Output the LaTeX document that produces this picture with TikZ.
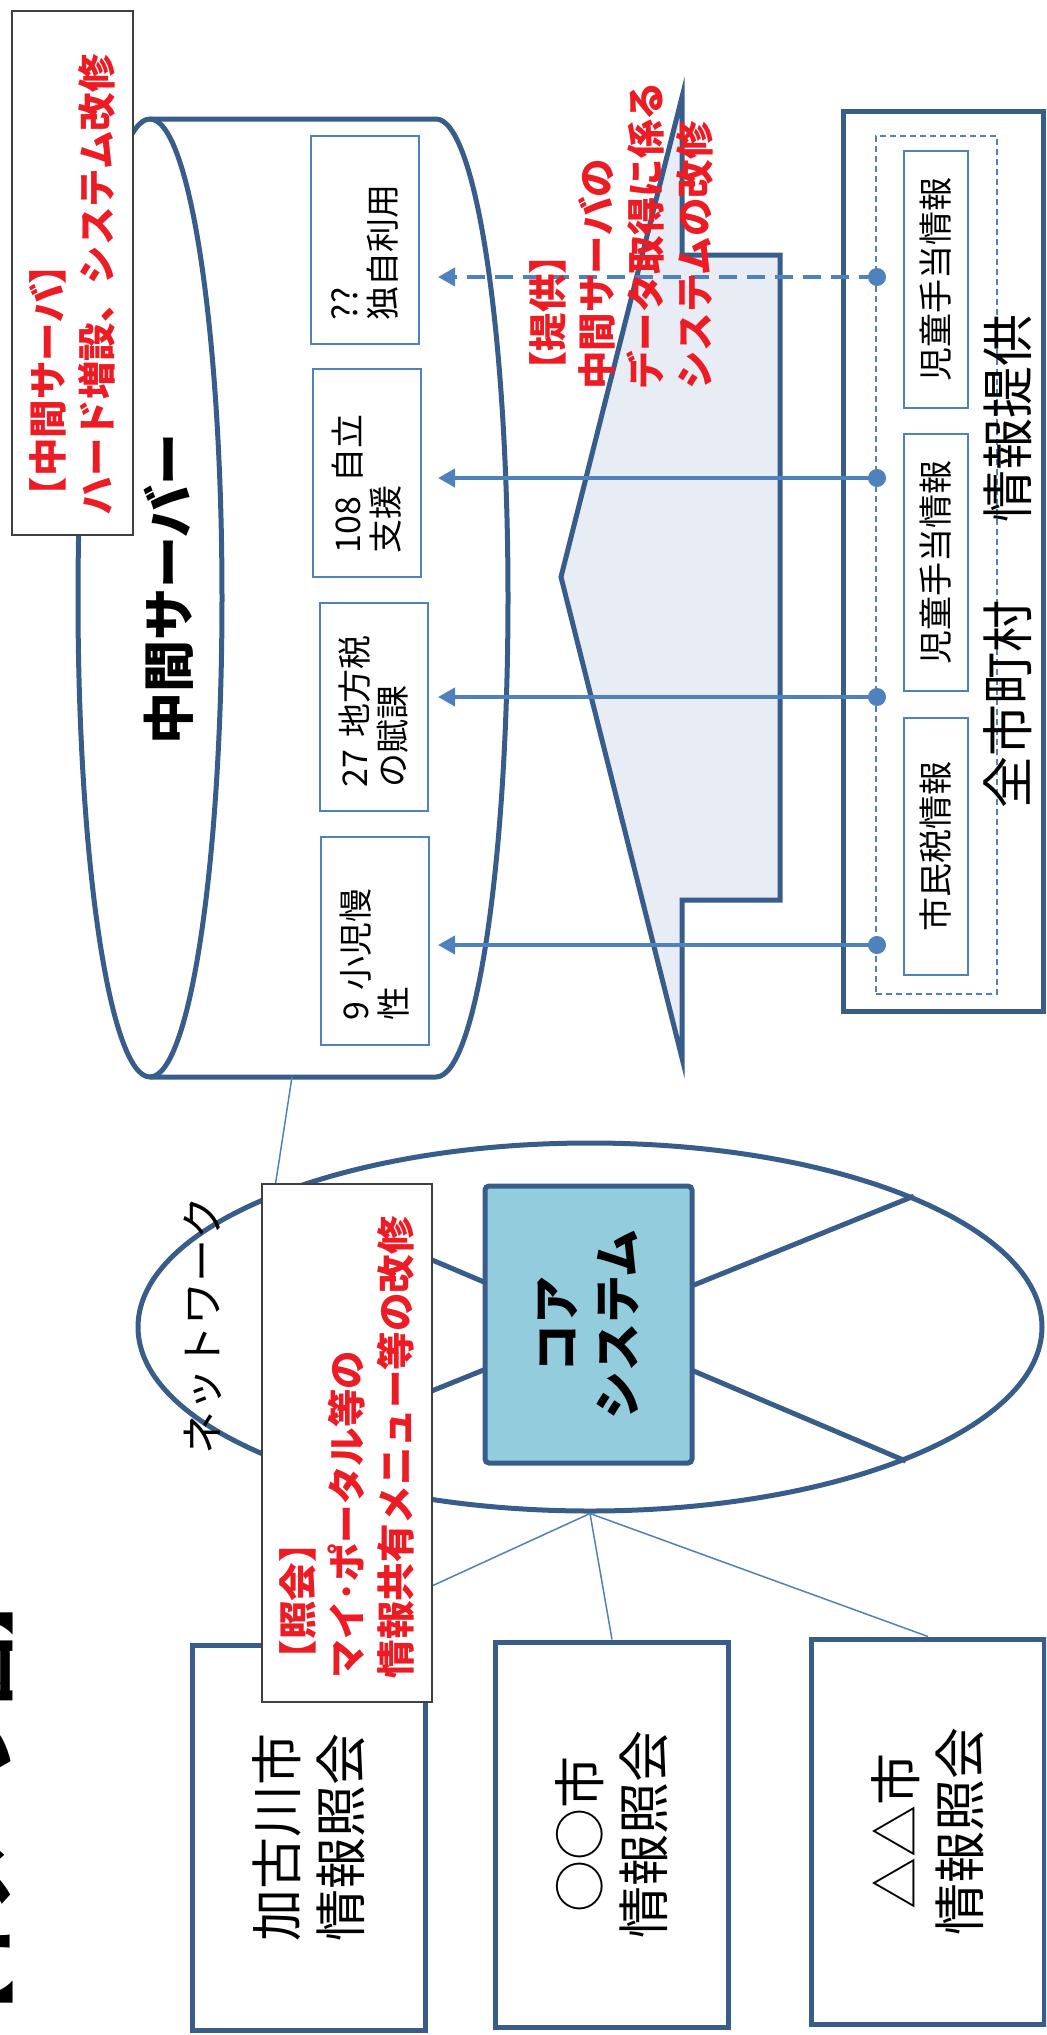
\documentclass[tikz,border=0pt]{standalone}
\usepackage{fontspec}
\setmainfont{Noto Sans CJK JP}
\usetikzlibrary{arrows.meta,shapes.geometric}
\definecolor{dblue}{HTML}{385D8A}
\definecolor{mblue}{HTML}{4F81BD}
\definecolor{redtxt}{HTML}{ED1C24}
\definecolor{aqua}{HTML}{93CDDD}
\definecolor{afill}{HTML}{E7ECF5}
\definecolor{gbord}{HTML}{404040}
\begin{document}
\begin{tikzpicture}[x=0.5pt,y=-0.5pt,
  dk/.style={draw=dblue, line width=2.5pt},
  notebox/.style={draw=gbord, line width=1pt, fill=white, rotate=90, align=left, inner ysep=0pt, text=redtxt, font=\fontsize{19.25pt}{24.5pt}\selectfont\bfseries},
  redlabel/.style={rotate=90, align=left, inner sep=0pt, text=redtxt, font=\fontsize{19.25pt}{24.5pt}\selectfont\bfseries},
  databox/.style={draw=mblue, line width=1pt, fill=white, rotate=90, align=left, inner xsep=12pt, inner ysep=0pt, text width=80pt, minimum width=104pt, minimum height=54pt, font=\fontsize{17pt}{19pt}\selectfont},
  infobox/.style={draw=mblue, line width=1pt, fill=white, rotate=90, align=center, minimum width=128.5pt, minimum height=32pt, inner sep=0pt, font=\fontsize{17pt}{19pt}\selectfont},
  citybox/.style={draw=dblue, line width=2.5pt, fill=white, rotate=90, align=center, minimum width=192.5pt, minimum height=116.5pt, inner sep=0pt, font=\fontsize{26pt}{32pt}\selectfont},
  flow/.style={draw=mblue, line width=2pt, -{Triangle[length=8.5pt,width=9pt]}},
  dotnode/.style={circle, fill=mblue, inner sep=0pt, minimum size=9pt},
  thinline/.style={draw=mblue, line width=0.75pt}
]
\clip (0,0) rectangle (1046,2035);

% title (cut off at the left edge)
\node[rotate=90, anchor=base west, inner sep=0pt, font=\fontsize{34.5pt}{40pt}\selectfont\bfseries] (title) at (6,2049) {【イメージ図】};

% cylinder (intermediate server)
\filldraw[dk, fill=white, line join=round] (150,119) -- (436,119)
  .. controls (475.8,119) and (508,333.4) .. (508,598)
  .. controls (508,862.6) and (475.8,1077) .. (436,1077) -- (150,1077)
  .. controls (110.2,1077) and (78,862.6) .. (78,598)
  .. controls (78,333.4) and (110.2,119) .. (150,119) -- cycle;
\draw[dk] (150,119) .. controls (189.8,119) and (222,333.4) .. (222,598)
  .. controls (222,862.6) and (189.8,1077) .. (150,1077);
\node[rotate=90, inner sep=0pt, font=\fontsize{26pt}{30pt}\selectfont\bfseries] (srv) at (169,589) {中間サーバー};

% data boxes in the server
\node[databox] (b1) at (365,240) {??\\独自利用};
\node[databox] (b2) at (367,473) {108\hspace{0.4em}自立\\支援};
\node[databox] (b3) at (374,707) {27 地方税\\の賦課};
\node[databox] (b4) at (374.5,940.5) {9 小児慢\\性};

% big arrow shape
\filldraw[draw=dblue, line width=2.5pt, fill=afill, line join=miter]
  (561,577) -- (682,97) -- (682,255) -- (780,255) -- (780,900) -- (682,900) -- (682,1058) -- cycle;

% all municipalities box
\node[draw=dblue, line width=2.5pt, fill=white, rotate=90, minimum width=450pt, minimum height=100pt, inner sep=0pt] (allbox) at (943,561) {};
\node[draw=mblue, line width=1pt, dash pattern=on 3pt off 2pt, minimum width=60.5pt, minimum height=429pt, inner sep=0pt] (dashbox) at (936.5,565) {};
\node[infobox] (i1) at (936,279.5) {児童手当情報};
\node[infobox] (i2) at (936,562.5) {児童手当情報};
\node[infobox] (i3) at (936,846) {市民税情報};
\node[rotate=90, inner sep=0pt, font=\fontsize{26pt}{30pt}\selectfont] (zlabel) at (1008,561) {全市町村\hspace{1.5em}情報提供};

% data flows
\node[dotnode] (d1) at (877,277) {};
\node[dotnode] (d2) at (877,478) {};
\node[dotnode] (d3) at (877,697) {};
\node[dotnode] (d4) at (877,945) {};
\coordinate (t1) at (438,277);
\coordinate (t2) at (438,478);
\coordinate (t3) at (438,697);
\coordinate (t4) at (438,945);
\draw[flow, dash pattern=on 9pt off 5pt] (d1.center) -- (t1);
\draw[flow] (d2.center) -- (t2);
\draw[flow] (d3.center) -- (t3);
\draw[flow] (d4.center) -- (t4);

\node[redlabel, anchor=west] (teikyo) at (621,390) {【提供】\\中間サーバの\\データ取得に係る\\システムの改修};

% note: server hardware
\node[notebox, inner xsep=10pt, text width=242pt, minimum width=262pt, minimum height=60.5pt] (ntA) at (72.5,273) {【中間サーバ】\\ハード増設、システム改修};

% network
\node[ellipse, draw=dblue, line width=2.5pt, minimum width=452pt, minimum height=184pt, inner sep=0pt] (net) at (590,1327) {};
\coordinate (cylb) at (292,1077);
\draw[thinline] (cylb) -- (net.157.85);
\draw[dk] (net.157.85) -- (net.337.85);
\draw[dk] (net.202.15) -- (net.22.15);
\node[draw=dblue, line width=2.5pt, fill=aqua, rounded corners=2pt, rotate=90, minimum width=138.5pt, minimum height=103.5pt, inner sep=0pt, align=center, font=\fontsize{24pt}{30.5pt}\selectfont\bfseries] (core) at (588.5,1324.5) {コア\\システム};

% city boxes
\node[citybox] (c1) at (308.5,1837.5) {加古川市\\情報照会};
\node[citybox] (c2) at (612,1834.5) {○○市\\情報照会};
\node[citybox] (c3) at (928,1831.5) {△△市\\情報照会};
\draw[thinline] (net.south) -- (c1.east);
\draw[thinline] (net.south) -- (c2.east);
\draw[thinline] (net.south) -- (c3.east);

% note: inquiry
\node[notebox, inner xsep=12pt, text width=235pt, minimum width=259pt, minimum height=85pt] (ntB) at (347,1443) {【照会】\\マイ･ポータル等の\\情報共有メニュー等の改修};

\node[rotate=90, inner sep=0pt, font=\fontsize{21.5pt}{25pt}\selectfont] (netlabel) at (203,1325) {ネットワーク};
\end{tikzpicture}
\end{document}
